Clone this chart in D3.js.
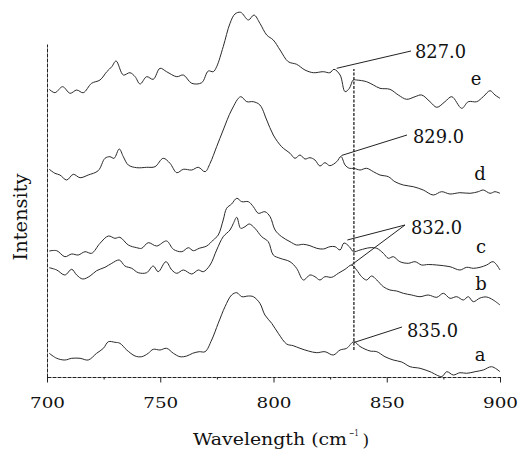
<!DOCTYPE html>
<html>
<head>
<meta charset="utf-8">
<script src="https://cdn.jsdelivr.net/npm/d3@7"></script>
<style>
  body { margin: 0; background: #fff; }
  text { font-family: "DejaVu Serif", "Liberation Serif", serif; fill: #111; }
</style>
</head>
<body>
<div id="chart"></div>
<script>
////////////////////////////////////////////////////////////////////////
// Data: [wavelength (cm-1), intensity (arb. units)]

let specA = [[701,23.7],[704.3,18.7],[707.9,17],[710.9,18.7],[714.6,18.7],[718.2,17],[721.9,23.7],[724.9,28.7],[727.1,35.3],[730,34.7],[732.2,33.7],[735.2,27],[738.9,21],[741.8,20.3],[744.7,23.7],[746.9,27.7],[749.9,27],[752.8,28.7],[755.8,23.7],[758.7,20.3],[761.7,21],[764.3,23.7],[767.2,25.3],[769.8,25.3],[772.7,37],[775.6,53.7],[778.6,70.3],[781.5,82],[783.8,84.3],[786,80.3],[788.9,81],[791.1,80.3],[794,73.7],[796.2,62],[799.2,53.7],[802.1,43.7],[805.8,33],[808.7,31.3],[811.7,28.7],[815.4,26],[819.1,24.3],[822.7,25.3],[826.4,22],[829.4,27],[832.3,28.7],[835.5,35.3],[838.2,30.5],[842.6,26],[845.6,25.3],[849.2,20.3],[852.9,17],[856.6,15],[860.3,10.3],[864.7,8.7],[869.1,5.3],[874.3,0.5],[876.5,5.3],[879.4,2],[882.3,4.3],[885.3,3.7],[889,5.3],[892.6,7],[896.3,10.3],[900,5.3]];

let specB = [[701,109.3],[704.3,107],[707.9,102],[710.9,107.7],[713.1,102],[715.8,98],[719,101],[721.9,106.3],[725.6,109.7],[728.6,113.7],[731.9,117],[734.4,111],[737.4,108.7],[740.3,104.3],[744,104.3],[746.9,111],[749.1,105.3],[752.5,115.3],[755.1,107],[757.3,103.7],[760.2,107],[763.9,103],[766.8,107],[769,105.3],[772,112],[774.9,127],[777.8,140.3],[780.8,147],[782.3,153.7],[783.8,159.7],[785.5,148.7],[787.4,150.3],[789.3,153],[791.8,148.7],[794.8,140.3],[797.7,135.3],[799.9,122],[802.9,118.7],[807.3,115.3],[810.2,108.7],[813.2,97],[816.1,102],[818.3,100.3],[820.5,97],[822.7,100.3],[825.7,99.7],[828.6,103.7],[831.6,107.7],[834.5,112],[836.7,107],[838.9,100.3],[841.1,97],[843.3,101],[845.6,97],[848.5,90.3],[851.4,87],[854.4,86],[857.3,83.7],[861,82],[864.7,80.3],[868.3,82],[872.1,79.7],[875,83.7],[877.9,78.7],[880.9,80.3],[883.8,77],[886,80.3],[888.2,75.3],[891.2,79],[894.1,80],[897,77],[900,72]];

let specC = [[701,126],[704.3,126.3],[707.9,120.3],[710.9,123],[713.8,122],[716.8,125.3],[719.7,123.7],[723.4,133.7],[727.1,141],[730,138.7],[732.2,139.7],[735.9,132],[739.6,129.3],[741.8,128.7],[744.7,134.3],[748.4,131],[752.8,136],[755.8,127.7],[759.5,125.3],[762.4,129.3],[764.6,126.3],[767.2,128.7],[770.5,131],[773.4,137],[775.6,142],[777.8,157],[779.3,168.7],[781.5,173],[783.8,178.7],[786,175.3],[788.9,175.3],[791.1,170.3],[793.3,163.7],[796.2,165.3],[798.5,160.3],[800.7,147],[803.6,140.3],[807.3,135.3],[810.2,132],[813.2,132.7],[816.1,131.3],[819.1,128.7],[822,128],[824.9,130.3],[827.2,130.3],[829.4,127],[831.1,134],[833.5,130.3],[835.3,125.3],[838.2,127],[842.6,129.3],[845.6,128.7],[848.5,123.7],[850.7,118.7],[852.9,120.3],[855.8,115.3],[859.5,113.7],[862.5,115.3],[865.4,112],[868.3,112.5],[872.1,112],[877.9,110.3],[882.3,107],[885.3,109.7],[888.2,108.7],[891.2,109.7],[894.1,112],[897,115.3],[900,107]];

let specD = [[701,207.7],[703.5,203.7],[705.7,202],[708.7,197],[711.6,202.7],[714.6,199.3],[718.2,202],[722.6,206.3],[725.6,218.7],[727.8,220.3],[729.6,218.7],[731.9,228],[733.7,220.3],[735.9,212],[739.6,209.3],[744,209.7],[747.7,210.3],[751.3,218.7],[754.3,213.7],[757.3,204.3],[760.2,207.7],[763.9,207],[766.8,209.7],[769.8,205.3],[772,213.7],[774.9,230.3],[777.8,247],[781.5,267],[785.5,280.3],[788.2,275.3],[791.1,275.3],[794,272],[797,257],[799.9,242],[803.6,230.3],[807.3,223.7],[809.5,218.7],[811.7,222],[813.9,218],[816.1,219.3],[818.3,217],[820.5,211],[822.7,214.3],[824.9,211.3],[827.9,215.3],[829.8,220.5],[831.6,212],[833.5,208.7],[835.5,208.7],[838.2,207],[841.1,208.7],[844.1,205.3],[847,202],[850.7,200.3],[853.6,195.3],[857.3,192],[861.7,190.3],[866.1,187],[870.5,182],[874.2,185.3],[877.9,183],[882.3,184.3],[886.8,183.7],[890.4,185.3],[892.6,187],[895.6,183.7],[897.8,185.3],[900,183.7]];

let specE = [[701,287.7],[703.5,284.3],[706.9,290.3],[710.2,283.7],[713.1,287],[716,284.3],[719.7,293.7],[723.4,297],[726.4,305.3],[728.6,310.3],[730.5,316],[733.7,302],[736.6,304.3],[738.9,300.3],[741.1,293],[744,300.3],[746.9,297.7],[749.9,308.7],[752.8,305.3],[757.3,300.3],[760.2,302],[763.9,293.7],[768.3,294.3],[771.2,306],[773.4,305.3],[774.9,310.3],[777.8,330.3],[780.8,353.7],[783,363],[785.5,364.7],[788.9,357],[791.4,362],[794,353.7],[797,342],[799.9,337],[802.9,327],[806.5,315.3],[810.2,312.7],[813.9,307],[817.6,304.3],[822,305.3],[824.9,304.3],[826.7,307.7],[829.4,302],[831.6,285.3],[833.5,288.7],[835.2,297],[836.7,297],[841.1,295.3],[844.1,292],[847,288.7],[851.4,287.7],[855.1,282],[858.8,277.7],[862.5,280.3],[865.4,282],[869.1,275.3],[872.1,269.7],[875.7,275.3],[878.7,280.3],[883.1,268.7],[886,275.3],[889.7,275.3],[892.6,280.3],[895.6,286.3],[897.8,282],[900,278.7]];

let seriesNames = ["a", "b", "c", "d", "e"];
let seriesData = [specA, specB, specC, specD, specE];

let xTicks = [700, 750, 800, 850, 900];
let xMinorTicks = [725, 775, 825, 875];

// peak annotations: label, and the curve points the leader lines go to
let peakLabels = ["827.0", "829.0", "832.0", "835.0"];
let peakTargets = [
  [[827.9, 308.7]],
  [[830.0, 221.5]],
  [[832.6, 137], [834.4, 112]],
  [[835.5, 34.5]]
];
let refLine = { wave: 835.5, from: 27, to: 308 };

////////////////////////////////////////////////////////////////////////
// Layout

let width = 521;
let height = 456;

// pixel positions for the text placed beside the curves (same order as the data)
let seriesLabelPos = [[480, 361], [481, 290], [481, 253], [480, 180], [476, 85]];
let peakLabelPos = [[415, 57.5], [413, 143], [411, 234], [407, 336.5]];
let leaderEnd = [[411, 51], [407, 135], [405, 225], [402, 327]];

let svg = d3.select("#chart")
  .append("svg")
  .attr("width", width).attr("height", height);

let xScale = d3.scaleLinear().domain([700, 900]).range([47, 500]);
let yScale = d3.scaleLinear().domain([0, 333]).range([377, 44]);

let line = d3.line()
  .x(d => xScale(d[0]))
  .y(d => yScale(d[1]))
  .curve(d3.curveCatmullRom.alpha(0.5));

// spectra
svg.append("g")
  .selectAll("path")
  .data(seriesData)
  .enter()
  .append("path")
  .attr("d", line)
  .attr("fill", "none")
  .attr("stroke", "#2a2a2a")
  .attr("stroke-width", 1);

// series letters
svg.append("g")
  .selectAll("text")
  .data(seriesNames)
  .enter()
  .append("text")
  .attr("x", (d, i) => seriesLabelPos[i][0])
  .attr("y", (d, i) => seriesLabelPos[i][1])
  .attr("font-size", 18)
  .attr("text-anchor", "middle")
  .text(d => d);

// dashed reference line
svg.append("line")
  .attr("x1", xScale(refLine.wave)).attr("x2", xScale(refLine.wave))
  .attr("y1", yScale(refLine.from)).attr("y2", yScale(refLine.to))
  .attr("stroke", "#222")
  .attr("stroke-width", 1.3)
  .attr("stroke-dasharray", "3,1.5");

// leader lines and peak labels
peakTargets.forEach((targets, i) => {
  let end = leaderEnd[i];
  targets.forEach(t => {
    svg.append("line")
      .attr("x1", xScale(t[0])).attr("y1", yScale(t[1]))
      .attr("x2", end[0]).attr("y2", end[1])
      .attr("stroke", "#222")
      .attr("stroke-width", 1);
  });
  let pos = peakLabelPos[i];
  svg.append("text")
    .attr("x", pos[0]).attr("y", pos[1])
    .attr("font-size", 18)
    .attr("textLength", 51)
    .attr("lengthAdjust", "spacingAndGlyphs")
    .text(peakLabels[i]);
});

// x axis
let xAxis = d3.axisBottom(xScale)
  .tickValues(xTicks)
  .tickSize(5.5)
  .tickSizeOuter(0)
  .tickFormat(d3.format("d"));

let gx = svg.append("g")
  .attr("transform", `translate(0, ${yScale(0)})`)
  .call(xAxis);
gx.select(".domain").attr("stroke", "#222").attr("stroke-dasharray", "4,1");
gx.selectAll(".tick line").attr("stroke", "#222");
gx.selectAll(".tick text")
  .attr("y", 31)
  .attr("dy", null)
  .attr("font-size", 14)
  .attr("textLength", 35)
  .attr("lengthAdjust", "spacingAndGlyphs");

let gxMinor = svg.append("g")
  .attr("transform", `translate(0, ${yScale(0)})`)
  .call(d3.axisBottom(xScale).tickValues(xMinorTicks).tickSize(2.5).tickFormat(""));
gxMinor.select(".domain").remove();
gxMinor.selectAll(".tick line").attr("stroke", "#222");

// y axis (no ticks)
let gy = svg.append("g")
  .attr("transform", `translate(${xScale(700)}, 0)`)
  .call(d3.axisLeft(yScale).tickValues([]).tickSizeOuter(0));
gy.select(".domain").attr("stroke", "#222").attr("stroke-dasharray", "4,1");

// axis titles
svg.append("text")
  .attr("x", 193).attr("y", 445)
  .attr("font-size", 16)
  .attr("textLength", 154)
  .attr("lengthAdjust", "spacingAndGlyphs")
  .text("Wavelength (cm");
svg.append("text")
  .attr("x", 349).attr("y", 436)
  .attr("font-size", 9)
  .attr("textLength", 9.5)
  .attr("lengthAdjust", "spacingAndGlyphs")
  .text("\u22121");
svg.append("text")
  .attr("x", 362.5).attr("y", 446)
  .attr("font-size", 17)
  .text(")");

svg.append("text")
  .attr("transform", "translate(27, 217) rotate(-90)")
  .attr("text-anchor", "middle")
  .attr("font-size", 18)
  .attr("textLength", 87)
  .attr("lengthAdjust", "spacingAndGlyphs")
  .text("Intensity");
</script>
</body>
</html>
